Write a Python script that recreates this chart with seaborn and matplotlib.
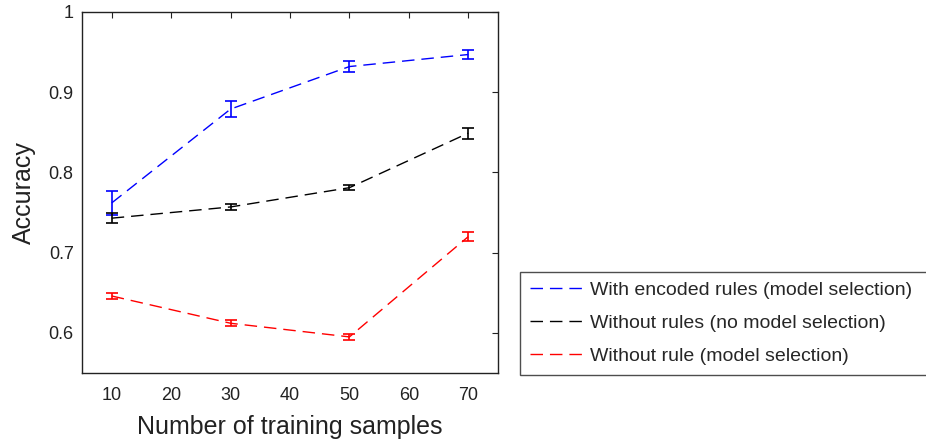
import pandas as pd
import matplotlib.pyplot as plt
import seaborn as sns

samples = [10, 30, 50, 70]
series_names = ['With encoded rules (model selection)',
                'Without rules (no model selection)',
                'Without rule (model selection)']
acc_encoded = [0.762, 0.879, 0.932, 0.947]
err_encoded = [0.015, 0.010, 0.007, 0.006]
acc_no_rules = [0.743, 0.757, 0.781, 0.849]
err_no_rules = [0.006, 0.004, 0.003, 0.007]
acc_no_rule_ms = [0.646, 0.612, 0.595, 0.720]
err_no_rule_ms = [0.004, 0.004, 0.004, 0.006]
colors = ['#0000ff', '#000000', '#ff0000']

sns.set_style('white')
plt.rcParams['font.family'] = ['Liberation Sans', 'DejaVu Sans']

rows = []
for name, acc, err in zip(series_names,
                          [acc_encoded, acc_no_rules, acc_no_rule_ms],
                          [err_encoded, err_no_rules, err_no_rule_ms]):
    for x, a, e in zip(samples, acc, err):
        rows.append({'samples': x, 'accuracy': a, 'err': e, 'series': name})
df = pd.DataFrame(rows)

fig = plt.figure(figsize=(9.26, 4.43), dpi=100)
ax = fig.add_axes([82 / 926, 1 - 373 / 443, 416 / 926, 361 / 443])

sns.lineplot(data=df, x='samples', y='accuracy', hue='series',
             hue_order=series_names, palette=colors, ax=ax,
             linewidth=1.0, dashes=False, legend=False)
for line in ax.get_lines():
    line.set_dashes((9, 5))

for name, c in zip(series_names, colors):
    sub = df[df['series'] == name]
    ax.errorbar(sub['samples'], sub['accuracy'], yerr=sub['err'], fmt='none',
                ecolor=c, elinewidth=1.2, capsize=4, capthick=1.2)

ax.set_xlim(5, 75)
ax.set_ylim(0.55, 1.0)
ax.set_xticks([10, 20, 30, 40, 50, 60, 70])
ax.set_yticks([0.6, 0.7, 0.8, 0.9, 1.0])
ax.set_yticklabels(['0.6', '0.7', '0.8', '0.9', '1'])
ax.tick_params(direction='in', top=True, right=True, length=4, width=0.8,
               labelsize=13, colors='#222222')
ax.tick_params(axis='x', pad=10)
ax.tick_params(axis='y', pad=6)
for s in ax.spines.values():
    s.set_color('#222222')
    s.set_linewidth(1.0)
ax.set_xlabel('Number of training samples', fontsize=18, color='#222222', labelpad=8)
ax.set_ylabel('Accuracy', fontsize=18, color='#222222', labelpad=9)

handles = [plt.Line2D([], [], color=c, linewidth=1.0, dashes=(9, 5)) for c in colors]
leg = fig.legend(handles, series_names, loc='lower left',
                 bbox_to_anchor=(520 / 926, 1 - 375 / 443, 430 / 926, 103 / 443),
                 mode='expand', fontsize=14, frameon=True, fancybox=False,
                 borderpad=0.5, labelspacing=0.8, handlelength=2.7,
                 handletextpad=0.4, borderaxespad=0)
leg.get_frame().set_edgecolor('#222222')
leg.get_frame().set_linewidth(1.0)

fig.savefig('out.png', dpi=100)
